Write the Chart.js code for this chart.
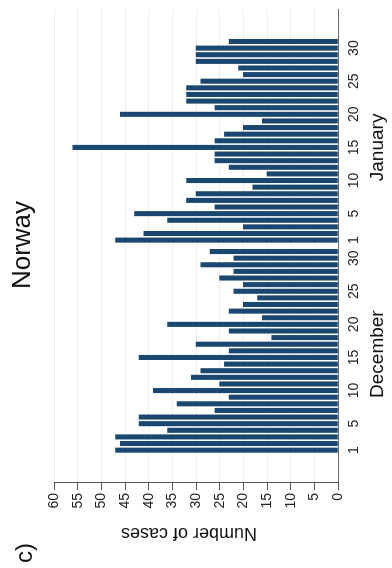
<!DOCTYPE html>
<html>
<head>
<meta charset="utf-8">
<script src="https://cdn.jsdelivr.net/npm/chart.js@4/dist/chart.umd.min.js"></script>
<style>
    html, body { margin: 0; padding: 0; background: #fff; overflow: hidden; }
    /* the figure is drawn upright, then turned a quarter turn to the left */
    #wrap {
        position: absolute;
        left: 0;
        top: 0;
        width: 568px;
        height: 392px;
        transform-origin: top left;
        transform: translate(0, 568px) rotate(-90deg);
    }
</style>
</head>
<body>
<div id="wrap"><canvas id="norwayChart" width="568" height="392"></canvas></div>
<script>
const DEC_CASES = [47, 46, 47, 36, 42, 42, 26, 34, 23, 39, 25, 31, 29, 24, 42, 23, 30, 14, 23, 36, 16, 23, 20, 17, 22, 20, 25, 22, 29, 22, 27];
const JAN_CASES = [47, 41, 20, 36, 43, 26, 32, 30, 18, 32, 15, 23, 26, 26, 56, 26, 24, 20, 16, 46, 26, 32, 32, 32, 29, 20, 21, 30, 30, 30, 23];
const DAY_TICKS = [1, 5, 10, 15, 20, 25, 30];
const MONTHS = ['December', 'January'];
const Y_TICKS_MAX = 60;

const FONT = '"Liberation Sans", Arial, sans-serif';
const NAVY = '#1a476f';

// January starts a little further on than one day after 31 December
const MONTH_OFFSET = 31.725;
function dayPos(month, day) {
    return month * MONTH_OFFSET + (day - 1);
}

const points = [];
[DEC_CASES, JAN_CASES].forEach((values, m) => {
    values.forEach((v, i) => points.push({ x: dayPos(m, i + 1), y: v }));
});

const tickLabels = {};
MONTHS.forEach((_, m) => {
    DAY_TICKS.forEach(d => { tickLabels[dayPos(m, d).toFixed(3)] = String(d); });
});

const textPlugin = {
    id: 'figureText',
    afterDraw(chart) {
        const ctx = chart.ctx;
        const xs = chart.scales.x;
        ctx.save();
        ctx.fillStyle = '#111';

        // panel letter
        ctx.font = '24px ' + FONT;
        ctx.textAlign = 'left';
        ctx.textBaseline = 'alphabetic';
        ctx.fillText('c)', 5, 32);

        // title
        ctx.font = '26px ' + FONT;
        ctx.textAlign = 'center';
        ctx.fillText('Norway', 323, 30);

        // month names under the day labels
        ctx.font = '19px ' + FONT;
        ctx.textBaseline = 'top';
        ctx.fillText(MONTHS[0], xs.getPixelForValue(dayPos(0, 15.5)), 368);
        ctx.fillText(MONTHS[1], xs.getPixelForValue(dayPos(1, 15)), 368);

        // value axis title
        ctx.font = '18px ' + FONT;
        ctx.textBaseline = 'middle';
        ctx.translate(35, 189);
        ctx.rotate(-Math.PI / 2);
        ctx.fillText('Number of cases', 0, 0);
        ctx.restore();
    }
};

new Chart(document.getElementById('norwayChart').getContext('2d'), {
    type: 'bar',
    data: {
        datasets: [{
            label: 'Cases',
            data: points,
            backgroundColor: NAVY,
            borderWidth: 0,
            barThickness: 4.4
        }]
    },
    options: {
        responsive: false,
        animation: false,
        devicePixelRatio: 1,
        layout: { padding: { top: 54, right: 10, left: 0, bottom: 0 } },
        plugins: {
            legend: { display: false },
            title: { display: false },
            tooltip: { enabled: false }
        },
        scales: {
            x: {
                type: 'linear',
                min: -2.41,
                max: 63.93,
                afterFit: s => { s.height = 54; },
                afterBuildTicks: s => {
                    s.ticks = Object.keys(tickLabels).map(k => ({ value: parseFloat(k) }));
                },
                grid: { display: false, drawTicks: false },
                border: { display: true, color: '#666', width: 1 },
                ticks: {
                    autoSkip: false,
                    maxRotation: 0,
                    padding: 8,
                    color: '#222',
                    font: { family: FONT, size: 14 },
                    callback: v => tickLabels[Number(v).toFixed(3)] || ''
                }
            },
            y: {
                min: 0,
                max: Y_TICKS_MAX,
                afterFit: s => { s.width = 85; },
                grid: {
                    color: '#ededed',
                    lineWidth: 1,
                    drawTicks: true,
                    tickLength: 7,
                    tickColor: '#555'
                },
                border: { display: true, color: '#555', width: 1 },
                ticks: {
                    stepSize: 5,
                    padding: 3,
                    color: '#222',
                    font: { family: FONT, size: 14 }
                }
            }
        }
    },
    plugins: [textPlugin]
});
</script>
</body>
</html>
